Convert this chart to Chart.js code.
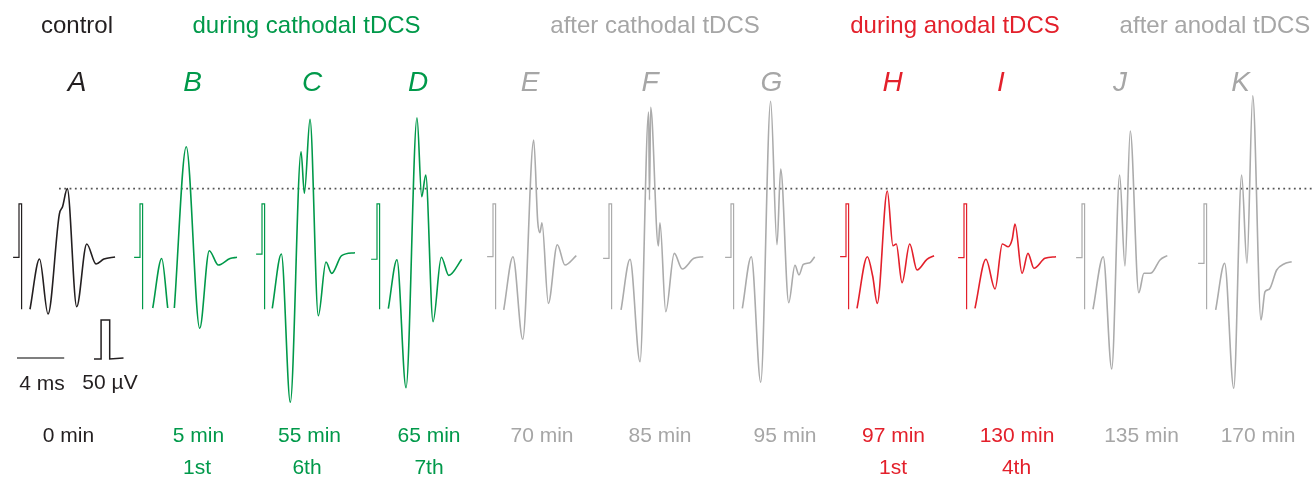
<!DOCTYPE html>
<html>
<head>
<meta charset="utf-8">
<script src="https://cdn.jsdelivr.net/npm/chart.js@4.4.1/dist/chart.umd.min.js"></script>
<style>
  body { margin: 0; background: #fff; }
  #wrap { position: relative; width: 1314px; height: 477px; font-family: "Liberation Sans", Arial, sans-serif; }
  #wrap canvas { position: absolute; left: 0; top: 0; }
  .lbl { position: absolute; white-space: nowrap; line-height: 1; transform: translateX(-50%); }
</style>
</head>
<body>
<div id="wrap"><canvas id="chart" width="1314" height="477"></canvas></div>
<script>
// --- data: time in ms after the stimulus, amplitude in µV ---
const traceLetters = ['A','B','C','D','E','F','G','H','I','J','K'];
const groupTitles = ['control','during cathodal tDCS','after cathodal tDCS','during anodal tDCS','after anodal tDCS'];
const traceGroup = [0,1,1,1,2,2,2,3,3,4,4];
const timeLabels = ['0 min','5 min','55 min','65 min','70 min','85 min','95 min','97 min','130 min','135 min','170 min'];
const sessionLabels = ['','1st','6th','7th','','','','1st','4th','',''];
const scaleBarMs = 4;
const scaleBarUv = 50;

// baseline level before the stimulus artifact (µV)
const baseLevel = [-0.6,-0.6,3.8,-2.9,0.4,-1.7,-0.4,0.4,-0.9,-0.9,-8.1];
const artifactTop = 68;
const artifactBottom = -67;

const traceA = [[0.93,-67],[1.74,-2.6],[2.46,-73.1],[3.42,55.1],[3.69,64.5],[4.09,87.6],[4.89,-63.7],[5.74,16.7],[6.53,-9.0],[7.2,-2.6],[8.14,0]];
const traceB = [[1.08,-65.4],[1.84,-1.9],[2.35,-65.4],[2.6,null],[2.91,-65.4],[3.92,141.4],[5.06,-91.4],[5.87,8.1],[6.64,-10.3],[7.63,-1.9],[8.22,-0.4]];
const traceC = [[0.87,-65.8],[1.64,3.8],[2.40,-186.3],[3.31,135.0],[3.59,81.7],[4.07,176.5],[4.77,-75.3],[5.42,-6.4],[5.91,-21.0],[6.75,1.7],[7.88,5.5]];
const traceD = [[0.96,-66.3],[1.69,-3.5],[2.46,-167.6],[3.39,178.6],[3.79,77.3],[4.13,105.1],[4.75,-82.9],[5.45,-0.4],[6.08,-23.5],[7.18,-2.9]];
const traceE = [[0.91,-67.9],[1.69,0.4],[2.52,-105.5],[3.45,150.0],[3.79,45.3],[3.98,31.2],[4.15,44.0],[4.69,-59.4],[5.45,15.8],[6.10,-10.3],[7.06,1.7]];
const traceF = [[1.02,-67.9],[1.78,-2.9],[2.63,-134.2],[3.36,185.9],[3.43,73.1],[3.53,191.9],[4.18,14.1],[4.32,44.0],[4.81,-70.1],[5.53,4.7],[6.21,-15.4],[7.20,-1.7],[7.99,0.4]];
const traceG = [[0.96,-65.8],[1.72,0.4],[2.52,-160.6],[3.36,199.6],[3.90,15.8],[4.21,112.8],[4.89,-58.6],[5.42,-10.6],[5.76,-23.1],[6.13,-9.4],[6.69,-7.3],[7.09,0.4]];
const traceH = [[0.93,-65.8],[1.81,0.4],[2.26,-24.4],[2.65,-59.4],[3.50,84.6],[3.98,14.5],[4.26,16.7],[4.75,-32.9],[5.40,16.7],[6.02,-16.7],[6.86,-2.9],[7.46,1.7]];
const traceI = [[0.93,-65.8],[1.86,-2.9],[2.63,-41.0],[3.25,16.7],[3.75,13.2],[4.09,23.1],[4.32,42.3],[4.92,-20.9],[5.42,4.7],[5.93,-14.5],[6.86,-1.7],[7.80,0.4]];
const traceJ = [[0.93,-67],[1.80,0.4],[2.52,-143.6],[3.19,105.1],[3.64,-11.5],[4.09,161.5],[4.81,-45.8],[5.25,-20.9],[5.62,-20.9],[5.91,-20.1],[6.61,-3.8],[7.23,1.7]];
const traceK = [[0.99,-67.9],[1.75,-8.1],[2.52,-168.3],[3.19,105.1],[3.64,-8.1],[4.13,206.8],[4.83,-80.8],[5.17,-44.5],[5.53,-41.4],[6.16,-16.7],[6.78,-9.0],[7.43,-6.0]];
const traces = [traceA,traceB,traceC,traceD,traceE,traceF,traceG,traceH,traceI,traceJ,traceK];

// --- layout ---
const W = 1314, H = 477;
const PX_MS = 11.8, PX_UV = 0.78, BASE_Y = 257;
const slotPx = [19,140,262,377,493,609,731,846,964,1082,1204];   // stimulus artifact position
const groupColor = ['#231f20','#00994a','#ababab','#e3202b','#ababab'];
const textColor  = ['#231f20','#00994a','#a6a6a6','#e3202b','#a6a6a6'];
const titleX  = [77,306.5,655,955,1215];
const letterX = [77,192.5,312,418,530,650,771.5,892.5,1001,1120,1240.5];
const timeX   = [68.5,198.5,309.5,429,542,660,785,893.5,1017,1141.5,1258];
const sessionX = [0,197,307,429,0,0,0,893,1016.5,0,0];

const datasets = [];
traces.forEach((tr, i) => {
  const x0 = slotPx[i] / PX_MS;
  const col = groupColor[traceGroup[i]];
  const b = baseLevel[i];
  // stimulus artifact: short baseline stub then a double vertical line
  datasets.push({
    data: [[-0.5,b],[0,b],[0,artifactTop],[0.22,artifactTop],[0.22,artifactBottom]].map(p => ({x: x0 + p[0], y: p[1]})),
    borderColor: col, borderWidth: 1.2, tension: 0
  });
  datasets.push({
    data: tr.map(p => ({x: x0 + p[0], y: p[1]})),
    borderColor: col, borderWidth: 1.6, cubicInterpolationMode: 'monotone'
  });
});

// dotted reference at the control peak
const refLevel = Math.max(...traceA.map(p => p[1]));
datasets.push({
  data: [{x: 59 / PX_MS, y: refLevel}, {x: W / PX_MS, y: refLevel}],
  borderColor: '#555', borderWidth: 1.6, borderDash: [1.8, 3.5], tension: 0
});

// scale bars
const sb0 = 17 / PX_MS, sbY = -129.5;
datasets.push({
  data: [{x: sb0, y: sbY}, {x: sb0 + scaleBarMs, y: sbY}],
  borderColor: '#555', borderWidth: 1.6, tension: 0
});
const cp0 = 94 / PX_MS, cpY = -130.8;
datasets.push({
  data: [[0,cpY],[0.6,cpY],[0.6,cpY + scaleBarUv],[1.33,cpY + scaleBarUv],[1.33,cpY],[2.5,sbY]].map(p => ({x: cp0 + p[0], y: p[1]})),
  borderColor: '#231f20', borderWidth: 1.5, tension: 0
});

new Chart(document.getElementById('chart'), {
  type: 'line',
  data: { datasets: datasets },
  options: {
    responsive: false,
    animation: false,
    layout: { padding: 0 },
    elements: { point: { radius: 0 } },
    plugins: { legend: { display: false }, tooltip: { enabled: false } },
    scales: {
      x: { type: 'linear', display: false, min: 0, max: W / PX_MS },
      y: { type: 'linear', display: false, min: -(H - BASE_Y) / PX_UV, max: BASE_Y / PX_UV }
    }
  }
});

// text labels
const wrap = document.getElementById('wrap');
function addLabel(text, x, baseline, size, color, italic) {
  const d = document.createElement('div');
  d.className = 'lbl';
  d.textContent = text;
  d.style.left = x + 'px';
  d.style.top = (baseline - 0.8465 * size) + 'px';
  d.style.fontSize = size + 'px';
  d.style.color = color;
  if (italic) d.style.fontStyle = 'italic';
  wrap.appendChild(d);
}
groupTitles.forEach((t, g) => addLabel(t, titleX[g], 33, 24, textColor[g]));
traceLetters.forEach((t, i) => addLabel(t, letterX[i], 92, 28, textColor[traceGroup[i]], true));
timeLabels.forEach((t, i) => addLabel(t, timeX[i], 442, 21, textColor[traceGroup[i]]));
sessionLabels.forEach((t, i) => { if (t) addLabel(t, sessionX[i], 474, 21, textColor[traceGroup[i]]); });
addLabel(scaleBarMs + ' ms', 42, 390, 21, '#231f20');
addLabel(scaleBarUv + ' µV', 110, 389, 21, '#231f20');
</script>
</body>
</html>
